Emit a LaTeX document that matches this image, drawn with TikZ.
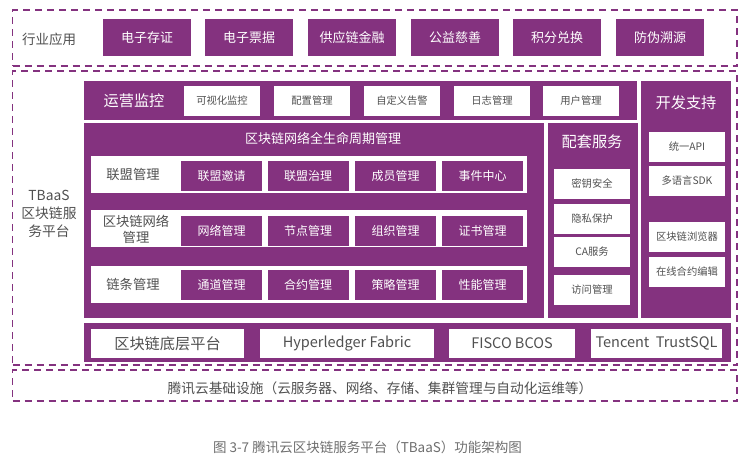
\documentclass[tikz,border=0pt]{standalone}
\usepackage{fontspec}
\setmainfont{Noto Sans CJK SC}
\definecolor{purp}{RGB}{132,50,127}
\definecolor{txtg}{RGB}{80,80,80}
\definecolor{capg}{RGB}{110,110,110}
\tikzset{
  pbox/.style={fill=purp, draw=none, text=white, inner sep=0pt, align=center},
  wbox/.style={fill=white, draw=none, text=txtg, inner sep=0pt, align=center},
  dbox/.style={draw=purp, line width=1.6pt, dash pattern=on 7pt off 5pt, inner sep=0pt},
  lbl/.style={inner sep=0pt, align=center},
}
\begin{document}
\begin{tikzpicture}[x=1pt,y=-1pt]
\useasboundingbox (0,0) rectangle (749,463);
% dashed frames
\node[dbox, minimum width=724.5pt, minimum height=56pt] (top) at (374.75,38) {};
\node[dbox, minimum width=724.5pt, minimum height=294pt] (mid) at (374.75,218) {};
\node[dbox, minimum width=724.5pt, minimum height=31pt] (bot) at (374.75,385.5) {};
% industry apps
\node[lbl, text=txtg, font=\fontsize{13.5}{16}\selectfont] (hy) at (49,39) {行业应用};
\foreach \n/\x/\t in {a1/147/电子存证, a2/249/电子票据, a3/352/供应链金融, a4/455/公益慈善, a5/557/积分兑换, a6/660/防伪溯源}{
  \node[pbox, minimum width=88pt, minimum height=37pt, font=\fontsize{13}{15}\selectfont] (\n) at (\x,37.5) {\t};
}
% left label
\node[lbl, text=txtg, font=\fontsize{13.8}{18}\selectfont] (tbaas) at (49,214) {TBaaS\\区块链服\\务平台};
% ops monitoring bar
\node[pbox, minimum width=553pt, minimum height=39pt] (ops) at (360.5,100.5) {};
\node[lbl, text=white, font=\fontsize{15.2}{18}\selectfont] (opst) at (134,101) {运营监控};
\foreach \n/\x/\t in {o1/222/可视化监控, o2/312/配置管理, o3/402/自定义告警, o4/492/日志管理, o5/581/用户管理}{
  \node[wbox, minimum width=76pt, minimum height=30pt, font=\fontsize{10.3}{12}\selectfont] (\n) at (\x,101) {\t};
}
% dev support
\node[pbox, minimum width=90pt, minimum height=237pt] (dev) at (686,199.5) {};
\node[lbl, text=white, font=\fontsize{15.2}{18}\selectfont] (devt) at (686,103) {开发支持};
\foreach \n/\y/\t in {d1/147/统一API, d2/181/多语言SDK, d3/237/区块链浏览器, d4/272/在线合约编辑}{
  \node[wbox, minimum width=76pt, minimum height=30pt, font=\fontsize{10.3}{12}\selectfont] (\n) at (687,\y) {\t};
}
% lifecycle
\node[pbox, minimum width=460pt, minimum height=195pt] (life) at (314,220.5) {};
\node[lbl, text=white, font=\fontsize{13}{15}\selectfont] (lifet) at (323,139) {区块链网络全生命周期管理};
\foreach \r/\y in {r1/174.5, r2/228.5, r3/284.5}{
  \node[wbox, minimum width=436pt, minimum height=37pt] (\r) at (309,\y) {};
}
\node[lbl, text=txtg, font=\fontsize{13.3}{16}\selectfont] (r1t) at (133,174.5) {联盟管理};
\node[lbl, text=txtg, font=\fontsize{13.3}{16}\selectfont] (r2t) at (136,229) {区块链网络\\管理};
\node[lbl, text=txtg, font=\fontsize{13.3}{16}\selectfont] (r3t) at (133,284.5) {链条管理};
\foreach \n/\x/\t in {b1/221.5/联盟邀请, b2/308/联盟治理, b3/395.5/成员管理, b4/482.5/事件中心}{
  \node[pbox, minimum width=81pt, minimum height=30pt, font=\fontsize{12}{14}\selectfont] (\n) at (\x,176) {\t};
}
\foreach \n/\x/\t in {c1/221.5/网络管理, c2/308/节点管理, c3/395.5/组织管理, c4/482.5/证书管理}{
  \node[pbox, minimum width=81pt, minimum height=30pt, font=\fontsize{12}{14}\selectfont] (\n) at (\x,231) {\t};
}
\foreach \n/\x/\t in {e1/221.5/通道管理, e2/308/合约管理, e3/395.5/策略管理, e4/482.5/性能管理}{
  \node[pbox, minimum width=81pt, minimum height=30pt, font=\fontsize{12}{14}\selectfont] (\n) at (\x,285) {\t};
}
% supporting services
\node[pbox, minimum width=90pt, minimum height=195pt] (sup) at (593,220.5) {};
\node[lbl, text=white, font=\fontsize{15.2}{18}\selectfont] (supt) at (592,142) {配套服务};
\foreach \n/\y/\t in {s1/183.5/密钥安全, s2/219/隐私保护, s3/252/CA服务, s4/289.5/访问管理}{
  \node[wbox, minimum width=76pt, minimum height=30pt, font=\fontsize{10.3}{12}\selectfont] (\n) at (592,\y) {\t};
}
% bottom platform
\node[pbox, minimum width=647pt, minimum height=39pt] (plat) at (407.5,342.5) {};
\node[wbox, minimum width=153pt, minimum height=29pt, font=\fontsize{15.2}{18}\selectfont] (p1) at (167.5,343.5) {区块链底层平台};
\node[wbox, minimum width=174pt, minimum height=29pt, font=\fontsize{14.5}{18}\selectfont] (p2) at (347,343.5) {Hyperledger Fabric};
\node[wbox, minimum width=126pt, minimum height=29pt, font=\fontsize{14.5}{18}\selectfont] (p3) at (512,343.5) {FISCO BCOS};
\node[wbox, minimum width=131pt, minimum height=29pt, font=\fontsize{14.5}{18}\selectfont] (p4) at (656.5,343.5) {Tencent\ \ TrustSQL};
% infrastructure
\node[lbl, text=txtg, font=\fontsize{13.7}{16}\selectfont] (infra) at (380,388) {腾讯云基础设施（云服务器、网络、存储、集群管理与自动化运维等）};
% caption
\node[lbl, text=capg, font=\fontsize{13.5}{16}\selectfont] (cap) at (367.5,447) {图 3-7 腾讯云区块链服务平台（TBaaS）功能架构图};
\end{tikzpicture}
\end{document}
